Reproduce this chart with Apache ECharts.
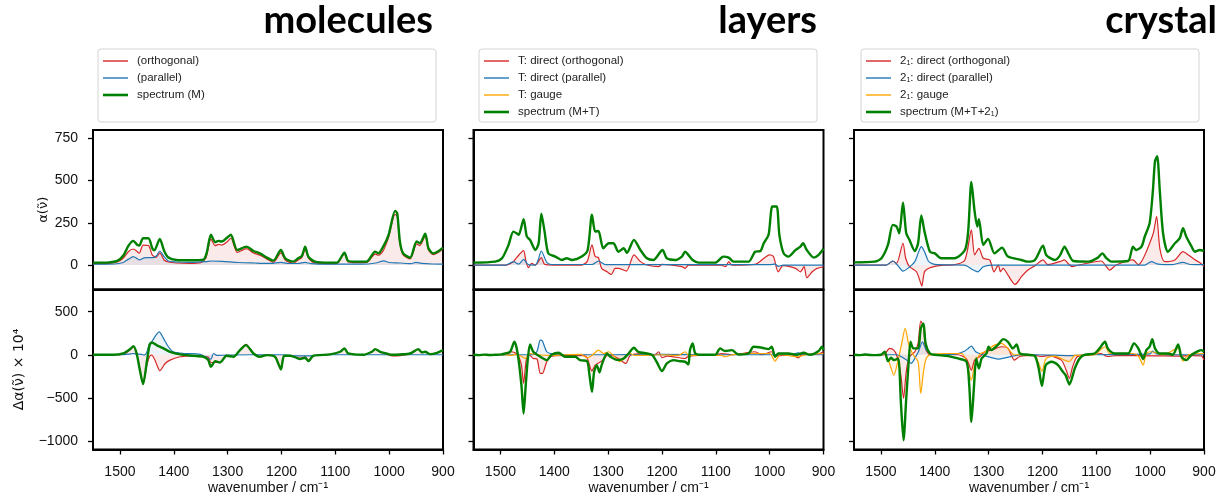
<!DOCTYPE html>
<html>
<head>
<meta charset="utf-8">
<script src="https://cdn.jsdelivr.net/npm/echarts@6/dist/echarts.min.js"></script>
<style>
  html, body { margin: 0; padding: 0; background: #fff; }
  #main { width: 1219px; height: 498px; }
</style>
</head>
<body>
<div id="main"></div>
<script>
// wavenumber ticks and value ticks
const xTicks = [1500, 1400, 1300, 1200, 1100, 1000, 900];
const yTopTicks = [0, 250, 500, 750];
const yBotTicks = [-1000, -500, 0, 500];

const panelTitles = ['molecules', 'layers', 'crystal'];

// molecules: top (absorption) and bottom (difference) spectra, [wavenumber, value]
const mTopRed = [[1550,8],[1520,10],[1505,18],[1494,40],[1484,80],[1475,95],[1468,80],[1464,70],[1457,118],[1447,115],[1440,60],[1433,45],[1426,72],[1418,30],[1410,18],[1395,12],[1370,10],[1350,14],[1340,45],[1331,155],[1323,115],[1317,122],[1311,118],[1300,140],[1294,160],[1282,75],[1265,97],[1252,72],[1240,58],[1227,35],[1215,16],[1201,72],[1193,30],[1178,10],[1169,30],[1162,45],[1156,92],[1150,42],[1138,12],[1110,8],[1097,8],[1083,67],[1076,18],[1060,14],[1042,15],[1026,65],[1020,58],[1011,85],[1001,165],[989,300],[985,290],[980,128],[974,60],[961,36],[949,125],[943,115],[933,172],[927,90],[918,62],[908,76],[900,98]];
const mTopBlue = [[1550,5],[1510,6],[1494,15],[1484,35],[1475,50],[1468,38],[1464,30],[1455,42],[1450,44],[1438,44],[1432,55],[1426,83],[1418,50],[1410,24],[1395,18],[1370,16],[1340,20],[1330,24],[1310,22],[1280,15],[1250,12],[1220,10],[1201,16],[1190,10],[1170,9],[1156,16],[1145,8],[1110,5],[1080,6],[1050,5],[1025,12],[1010,25],[1000,15],[980,12],[960,8],[950,16],[940,10],[920,6],[900,5]];
const mTopGreen = [[1550,14],[1520,16],[1505,25],[1494,55],[1484,115],[1475,143],[1468,120],[1464,115],[1457,159],[1447,159],[1440,100],[1436,87],[1426,155],[1418,85],[1410,45],[1395,30],[1370,28],[1345,32],[1339,70],[1331,179],[1323,135],[1317,143],[1311,139],[1300,165],[1294,179],[1282,89],[1265,109],[1252,83],[1240,69],[1227,44],[1215,26],[1201,89],[1193,40],[1178,20],[1169,40],[1162,54],[1156,109],[1150,50],[1138,20],[1110,14],[1097,14],[1083,73],[1076,24],[1060,20],[1042,20],[1026,79],[1020,69],[1011,109],[1001,179],[989,321],[985,307],[980,139],[974,69],[961,44],[949,139],[943,129],[933,185],[927,99],[918,69],[908,83],[900,103]];
const mBotRed = [[1550,0],[1500,0],[1490,15],[1481,60],[1475,93],[1469,20],[1463,-170],[1457,-341],[1450,-120],[1445,-20],[1441,-4],[1435,-60],[1430,-140],[1426,-186],[1416,-101],[1407,-62],[1388,-23],[1364,-12],[1345,-20],[1336,-25],[1331,-90],[1323,-89],[1314,-89],[1302,-8],[1289,-20],[1277,54],[1266,120],[1252,15],[1240,-23],[1227,-4],[1212,-23],[1206,-101],[1201,-171],[1195,-12],[1184,-12],[1172,-30],[1166,-40],[1156,-25],[1150,-65],[1141,-12],[1110,4],[1091,35],[1083,74],[1076,15],[1048,0],[1032,35],[1026,66],[1017,35],[1005,5],[995,-12],[980,-10],[961,15],[946,66],[939,27],[933,35],[924,8],[911,23],[900,54]];
const mBotBlue = [[1550,0],[1500,0],[1480,10],[1475,15],[1469,8],[1460,5],[1455,-5],[1450,30],[1445,132],[1441,151],[1432,236],[1427,267],[1419,190],[1410,93],[1401,35],[1382,15],[1351,5],[1336,-43],[1331,-50],[1326,15],[1320,-8],[1302,-4],[1260,0],[1200,0],[1170,-12],[1150,-12],[1130,0],[1050,0],[1000,0],[950,0],[900,0]];
const mBotGreen = [[1550,0],[1512,0],[1494,15],[1481,66],[1475,100],[1469,15],[1463,-178],[1457,-341],[1450,-81],[1445,112],[1441,143],[1432,112],[1419,74],[1407,35],[1388,4],[1364,-12],[1345,-23],[1336,-62],[1331,-140],[1323,-74],[1314,-89],[1302,-12],[1289,-23],[1277,54],[1266,112],[1252,15],[1240,-23],[1227,-4],[1212,-23],[1206,-101],[1201,-171],[1195,-12],[1184,-12],[1172,-35],[1166,-50],[1156,-35],[1150,-74],[1141,-12],[1110,4],[1091,35],[1083,74],[1076,15],[1048,0],[1032,35],[1026,66],[1017,35],[1005,15],[995,0],[980,4],[961,15],[946,66],[939,27],[933,35],[924,8],[911,23],[900,54]];

// layers
const lTopRed = [[1550,0],[1490,0],[1476,20],[1470,44],[1457,85],[1453,30],[1448,-16],[1442,10],[1435,0],[1424,44],[1418,5],[1400,0],[1350,0],[1339,20],[1330,119],[1324,50],[1318,44],[1312,-20],[1302,-40],[1294,-56],[1287,-20],[1280,-20],[1266,-36],[1252,60],[1240,20],[1228,0],[1206,-10],[1200,4],[1163,-10],[1157,-20],[1151,0],[1090,0],[1082,-10],[1076,20],[1070,0],[1027,4],[1000,60],[993,50],[984,-40],[975,-4],[952,-20],[943,-40],[936,-10],[931,-75],[921,-40],[912,-20],[900,-10]];
const lTopBlue = [[1550,0],[1490,0],[1476,20],[1466,5],[1457,34],[1448,2],[1435,0],[1430,30],[1424,83],[1414,16],[1405,3],[1330,3],[1318,24],[1305,2],[1100,2],[1000,2],[990,5],[984,-8],[975,0],[900,0]];
const lTopGreen = [[1550,14],[1510,20],[1497,40],[1485,119],[1476,198],[1470,188],[1466,179],[1457,272],[1451,169],[1445,149],[1435,89],[1429,129],[1424,304],[1418,198],[1411,69],[1398,50],[1386,30],[1377,40],[1367,30],[1349,50],[1338,89],[1330,298],[1324,198],[1318,202],[1309,99],[1299,129],[1290,129],[1281,79],[1271,99],[1265,73],[1252,149],[1240,89],[1228,40],[1216,30],[1199,89],[1191,40],[1175,30],[1163,50],[1157,79],[1151,60],[1143,30],[1132,14],[1101,14],[1086,50],[1076,44],[1067,20],[1039,20],[1027,79],[1017,83],[1011,129],[1002,179],[995,347],[987,347],[982,179],[974,69],[965,50],[952,89],[943,109],[938,129],[931,89],[918,44],[909,60],[900,96]];
const lBotRed = [[1550,0],[1490,0],[1479,35],[1468,0],[1461,-120],[1457,-333],[1452,-62],[1447,0],[1439,-43],[1432,-50],[1426,-217],[1422,-217],[1414,-81],[1405,-15],[1380,-8],[1345,-10],[1339,-35],[1330,-190],[1324,-120],[1312,-74],[1299,0],[1281,-43],[1267,-101],[1259,-8],[1237,15],[1215,-8],[1206,35],[1200,-35],[1190,-15],[1157,-43],[1150,-15],[1100,0],[1089,15],[1070,0],[1027,35],[1015,0],[996,35],[990,-12],[960,0],[947,-35],[940,0],[910,10],[900,35]];
const lBotBlue = [[1550,0],[1440,0],[1432,40],[1426,170],[1422,159],[1414,35],[1405,10],[1390,0],[1300,0],[1200,5],[1100,0],[960,0],[947,23],[935,0],[900,0]];
const lBotOrange = [[1550,0],[1490,0],[1481,-8],[1470,5],[1460,-23],[1454,-43],[1445,15],[1430,0],[1410,-8],[1380,0],[1350,4],[1339,-35],[1330,-8],[1318,54],[1308,15],[1299,35],[1287,-30],[1278,-81],[1268,-20],[1259,15],[1250,-8],[1200,0],[1170,-8],[1157,35],[1150,-8],[1090,-8],[1082,-23],[1070,0],[1030,15],[1000,15],[990,-74],[980,0],[947,-23],[930,4],[900,15]];
const lBotGreen = [[1550,0],[1540,-4],[1530,2],[1520,-3],[1510,0],[1498,4],[1491,15],[1482,35],[1474,151],[1468,15],[1461,-353],[1457,-682],[1453,-353],[1449,-43],[1445,120],[1439,35],[1426,-23],[1414,-62],[1405,0],[1392,23],[1380,-23],[1361,-23],[1352,-62],[1339,-74],[1335,-217],[1330,-430],[1326,-198],[1321,-120],[1316,-205],[1312,-120],[1302,15],[1296,-23],[1281,-62],[1271,-43],[1262,15],[1252,81],[1244,35],[1219,0],[1210,-81],[1200,-190],[1191,-101],[1178,-62],[1169,-74],[1157,-81],[1151,-112],[1148,54],[1143,132],[1138,15],[1126,0],[1101,0],[1092,74],[1083,43],[1070,54],[1058,4],[1039,15],[1030,93],[1014,81],[1002,66],[996,93],[990,-23],[984,15],[965,15],[950,0],[937,23],[925,0],[909,43],[903,93],[900,54]];

// crystal
const cTopRed = [[1550,0],[1490,0],[1478,24],[1471,10],[1459,129],[1454,40],[1447,-10],[1434,-40],[1426,-109],[1424,-125],[1419,-40],[1409,-16],[1388,-2],[1363,2],[1344,30],[1332,208],[1326,60],[1318,99],[1310,40],[1298,30],[1290,-40],[1282,0],[1278,-40],[1273,-20],[1264,-60],[1251,-115],[1247,-105],[1239,-69],[1227,-30],[1214,-4],[1199,30],[1190,2],[1168,20],[1159,30],[1152,8],[1145,-10],[1133,0],[1091,24],[1075,-30],[1063,0],[1032,30],[1022,2],[995,179],[988,288],[982,99],[973,20],[954,30],[939,79],[929,60],[916,30],[904,5],[900,-10]];
const cTopBlue = [[1550,0],[1490,0],[1478,24],[1468,-5],[1459,-36],[1450,-20],[1437,20],[1431,69],[1425,109],[1419,79],[1412,24],[1405,8],[1395,2],[1345,0],[1338,-10],[1332,-24],[1320,-40],[1310,-10],[1295,0],[1010,0],[998,20],[985,5],[960,2],[939,16],[925,3],[900,2]];
const cTopGreen = [[1550,16],[1512,20],[1499,40],[1487,119],[1478,238],[1471,228],[1466,188],[1459,371],[1453,188],[1447,149],[1437,83],[1431,129],[1425,294],[1419,198],[1409,79],[1400,69],[1388,40],[1363,40],[1344,89],[1338,198],[1332,492],[1326,317],[1321,228],[1318,272],[1310,119],[1301,155],[1289,69],[1275,103],[1264,50],[1239,30],[1227,20],[1214,30],[1199,115],[1193,60],[1177,30],[1168,54],[1159,109],[1152,69],[1143,24],[1115,20],[1097,44],[1089,69],[1081,40],[1072,20],[1041,24],[1032,109],[1026,89],[1016,109],[1010,169],[1001,248],[995,436],[991,615],[987,645],[982,436],[976,188],[967,79],[954,129],[945,159],[939,218],[933,169],[923,109],[917,79],[908,89],[900,83]];
const cBotRed = [[1550,0],[1495,0],[1484,74],[1476,54],[1470,-20],[1463,-236],[1458,-508],[1453,-198],[1447,-23],[1437,35],[1431,132],[1426,391],[1421,326],[1417,74],[1409,0],[1357,0],[1341,-50],[1332,-178],[1326,-62],[1316,-20],[1307,35],[1295,54],[1276,93],[1264,74],[1252,-62],[1242,-20],[1214,-8],[1202,-20],[1190,-10],[1165,-62],[1156,-178],[1150,-275],[1144,-140],[1135,-20],[1110,0],[1091,15],[1080,-20],[1060,-8],[1000,-12],[950,-15],[920,-10],[905,-12],[900,-62]];
const cBotBlue = [[1550,0],[1470,0],[1462,-23],[1450,-70],[1444,-101],[1436,-30],[1430,40],[1423,150],[1416,60],[1408,15],[1398,0],[1360,10],[1345,40],[1338,74],[1332,100],[1324,35],[1315,10],[1305,-15],[1282,-50],[1265,-30],[1245,-5],[1210,0],[1150,-10],[1110,0],[1000,10],[996,43],[988,10],[960,0],[900,0]];
const cBotOrange = [[1550,0],[1495,0],[1490,-15],[1484,-101],[1476,-236],[1468,-62],[1462,112],[1455,306],[1448,112],[1440,0],[1431,-81],[1426,-450],[1421,-198],[1416,-43],[1409,0],[1375,15],[1350,15],[1341,-81],[1332,-295],[1326,-120],[1316,10],[1307,35],[1289,112],[1276,132],[1264,74],[1252,0],[1227,0],[1214,-15],[1207,-101],[1201,-190],[1193,-43],[1177,-15],[1159,-62],[1150,-81],[1140,-8],[1103,0],[1091,66],[1083,93],[1075,15],[1032,15],[1022,-15],[1013,-120],[1007,15],[998,35],[975,0],[948,81],[939,-74],[929,0],[900,15]];
const cBotGreen = [[1550,0],[1540,-4],[1530,3],[1520,-2],[1510,-4],[1500,0],[1493,35],[1487,-74],[1481,-35],[1476,-62],[1468,-43],[1463,-547],[1458,-992],[1453,-508],[1448,-43],[1445,151],[1440,74],[1431,74],[1426,306],[1421,364],[1417,132],[1409,15],[1400,0],[1375,-15],[1357,-43],[1341,-81],[1336,-353],[1332,-779],[1327,-353],[1323,-43],[1318,-159],[1313,-43],[1304,15],[1300,93],[1295,54],[1282,120],[1273,182],[1264,151],[1255,74],[1248,120],[1242,15],[1227,0],[1214,-15],[1207,-159],[1201,-360],[1194,-120],[1183,-81],[1171,-120],[1162,-198],[1157,-236],[1150,-345],[1140,-159],[1131,-43],[1122,0],[1103,15],[1094,74],[1084,151],[1078,66],[1066,15],[1041,15],[1030,132],[1022,74],[1017,0],[1013,-50],[1007,54],[1001,93],[996,182],[991,74],[982,15],[967,15],[958,0],[948,120],[942,-23],[933,-62],[923,0],[911,43],[905,54],[900,35]];

const RED = '#d62728', BLUE = '#1f77b4', ORANGE = '#ffa500', GREEN = '#008000';
const FILL = {
  [RED]: 'rgba(214,39,40,0.14)',
  [BLUE]: 'rgba(31,119,180,0.12)',
  [ORANGE]: 'rgba(255,165,0,0.12)'
};

const names = [
  ['(orthogonal)', '(parallel)', null, 'spectrum (M)'],
  ['T: direct (orthogonal)', 'T: direct (parallel)', 'T: gauge', 'spectrum (M+T)'],
  ['2\u2081: direct (orthogonal)', '2\u2081: direct (parallel)', '2\u2081: gauge', 'spectrum (M+T+2\u2081)']
];

const gridLefts = [93, 473.5, 854];
const gridW = 350;
const topY = 130, topH = 159.5, botY = 289.5, botH = 160;

const grids = [], xAxes = [], yAxes = [], series = [], legends = [], titles = [], graphics = [];

const minusFmt = v => (v < 0 ? '\u2212' + (-v) : '' + v);

function addLine(name, data, color, idx, fill) {
  series.push({
    name: name,
    type: 'line',
    xAxisIndex: idx,
    yAxisIndex: idx,
    data: data,
    showSymbol: false,
    symbol: 'none',
    smooth: 0.25,
    z: color === GREEN ? 5 : 3,
    lineStyle: {color: color, width: color === GREEN ? 2.4 : 1.2},
    itemStyle: {color: color},
    areaStyle: fill ? {color: FILL[color], origin: 0} : undefined
  });
}

const panels = [
  {top: [mTopRed, mTopBlue, null, mTopGreen], bot: [mBotRed, mBotBlue, null, mBotGreen]},
  {top: [lTopRed, lTopBlue, null, lTopGreen], bot: [lBotRed, lBotBlue, lBotOrange, lBotGreen]},
  {top: [cTopRed, cTopBlue, null, cTopGreen], bot: [cBotRed, cBotBlue, cBotOrange, cBotGreen]}
];
const colors = [RED, BLUE, ORANGE, GREEN];
const titleRights = [433, 817, 1217];

for (let p = 0; p < 3; p++) {
  const left = gridLefts[p];
  for (let r = 0; r < 2; r++) {
    const idx = p * 2 + r;
    const bottom = r === 1;
    grids.push({
      left: left, width: gridW,
      top: bottom ? botY : topY, height: bottom ? botH : topH,
      show: true, borderColor: '#000', borderWidth: 2, backgroundColor: 'transparent'
    });
    xAxes.push({
      type: 'value', gridIndex: idx, min: 900, max: 1550, inverse: true,
      axisLine: {show: true, onZero: false, lineStyle: {color: '#000', width: 2}},
      splitLine: {show: false},
      axisTick: {show: bottom, customValues: xTicks, length: 5, lineStyle: {color: '#000', width: 1.3}},
      axisLabel: {show: bottom, customValues: xTicks, margin: 16, fontSize: 14, color: '#111',
        fontFamily: 'Liberation Sans', formatter: v => String(v)},
      name: bottom ? 'wavenumber / cm\u207B\u00B9' : '',
      nameLocation: 'middle', nameGap: 32, nameMoveOverlap: false,
      nameTextStyle: {fontSize: 14, color: '#111', fontFamily: 'Liberation Sans'}
    });
    const ticks = bottom ? yBotTicks : yTopTicks;
    yAxes.push({
      type: 'value', gridIndex: idx,
      min: bottom ? -1100 : -145, max: bottom ? 758 : 800,
      axisLine: {show: true, onZero: false, lineStyle: {color: '#000', width: 2}},
      splitLine: {show: false},
      axisTick: {show: true, customValues: ticks, length: 5, lineStyle: {color: '#000', width: 1.3}},
      axisLabel: {show: p === 0, customValues: ticks, margin: 15, fontSize: 14, color: '#111',
        fontFamily: 'Liberation Sans', formatter: minusFmt},
      name: p === 0 ? (bottom ? '\u0394\u03B1(\u03BD\u0303) \u00D7 10\u2074' : '\u03B1(\u03BD\u0303)') : '',
      nameLocation: 'middle', nameGap: bottom ? 67 : 43, nameMoveOverlap: false,
      nameTextStyle: {fontSize: bottom ? 14 : 13, color: '#111', fontFamily: 'DejaVu Sans'}
    });
    const set = bottom ? panels[p].bot : panels[p].top;
    for (let k = 0; k < 4; k++) {
      if (!set[k]) continue;
      addLine(names[p][k], set[k], colors[k], idx, k !== 3);
    }
  }

  // legend box + legend
  const boxX = [98, 479, 861][p];
  graphics.push({
    type: 'rect', z: 0,
    shape: {x: boxX, y: 49, width: 338, height: 73, r: 3},
    style: {fill: '#fff', stroke: '#d4d4d4', lineWidth: 1}
  });
  const legendData = [];
  for (let k = 0; k < 4; k++) {
    if (!names[p][k]) continue;
    legendData.push({
      name: names[p][k],
      icon: k === 3 ? 'path://M0,0H25V2.6H0Z' : 'path://M0,0H25V1.4H0Z'
    });
  }
  legends.push({
    left: boxX + 5, top: 55, orient: 'vertical', padding: 0,
    itemWidth: 25, itemHeight: 12, itemGap: 5,
    symbolKeepAspect: true,
    selectedMode: false,
    itemStyle: {borderWidth: 0},
    textStyle: {fontSize: 11.5, color: '#222', fontFamily: 'Liberation Sans', padding: [0, 0, 0, 4]},
    data: legendData
  });

  titles.push({
    text: panelTitles[p],
    right: 1219 - titleRights[p], top: 2, padding: 0,
    textStyle: {fontFamily: 'Lato', fontWeight: 'bold', fontSize: 38, color: '#000'}
  });
}

const chart = echarts.init(document.getElementById('main'), null, {renderer: 'canvas'});
chart.setOption({
  animation: false,
  backgroundColor: '#fff',
  title: titles,
  graphic: graphics,
  legend: legends,
  grid: grids,
  xAxis: xAxes,
  yAxis: yAxes,
  series: series
});
</script>
</body>
</html>
